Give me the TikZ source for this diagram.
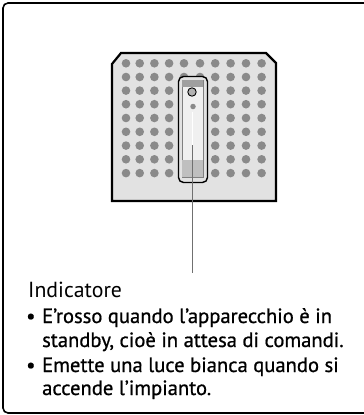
\documentclass[tikz,border=0pt]{standalone}
\usepackage{fontspec}
\setmainfont{PT Sans}
\newfontfamily\semifont[FakeBold=0.8]{PT Sans}
\definecolor{panelfill}{HTML}{E2E2E2}
\definecolor{dotgray}{HTML}{8A8A8A}
\definecolor{leadgray}{HTML}{707070}
\tikzset{
  frame/.style={draw=black, line width=1.6pt, rounded corners=5pt},
  panel/.style={draw=black, line width=2.2pt, fill=panelfill, line join=miter},
  dot/.style={fill=dotgray, draw=none},
  ledcase/.style={draw=black, line width=1.4pt, rounded corners=5pt, fill=panelfill},
  leader/.style={draw=leadgray, line width=0.9pt},
  title/.style={anchor=base west, inner sep=0pt, font=\fontsize{21.8}{26}\selectfont},
  itemline/.style={anchor=base west, inner sep=0pt, font=\semifont\fontsize{20.6}{26}\selectfont},
}
\begin{document}
\begin{tikzpicture}[x=1pt, y=-1pt]
\useasboundingbox (0,0) rectangle (364,415);
% outer frame, open to the right
\draw[frame] (372,3) -- (3,3) -- (3,413) -- (372,413);
% perforated front panel
\draw[panel] (112,64) -- (121,53) -- (266,53) -- (276,63) -- (276,201) -- (112,201) -- cycle;
\foreach \c [count=\i] in {126,139.7,154.4,169.1,184,200,215.2,230.6,246,261.6}{
  \foreach \r in {63.3,77,90.6,104.2,118,131.8,145.6,159.3,173.1}{
    \fill[dot] (\c,\r) circle [radius=4.3pt];
  }
}
% indicator housing
\draw[ledcase] (178.5,76.5) rectangle (207.5,182.5);
\node[draw=gray, line width=0.5pt, fill=white!94!black, minimum width=21pt, minimum height=97pt, inner sep=0pt] (lens) at (192.5,128.5) {};
\fill[gray!75] (182,80) rectangle (203,87);
\fill[gray!50] (182,160) rectangle (203,177);
\draw[white, line width=0.8pt] (192.5,112) -- (192.5,158);
\draw[black, line width=0.9pt, fill=gray!60] (192,92) circle [radius=4.2pt];
\node[circle, fill=dotgray, inner sep=0pt, minimum size=5.5pt] (led) at (193,106.5) {};
% leader line to the caption
\coordinate (tip) at (192.5,145);
\coordinate (foot) at (192.5,273);
\draw[leader] (tip) -- (foot);
% caption
\node[title] (head) at (28,297) {Indicatore};
\node[itemline] (b1) at (26,323) {•};
\node[itemline] (l1) at (42,323) {E’rosso quando l’apparecchio è in};
\node[itemline] (l2) at (42,347) {standby, cioè in attesa di comandi.};
\node[itemline] (b2) at (26,372) {•};
\node[itemline] (l3) at (42,372) {Emette una luce bianca quando si};
\node[itemline] (l4) at (42,395) {accende l’impianto.};
\end{tikzpicture}
\end{document}
